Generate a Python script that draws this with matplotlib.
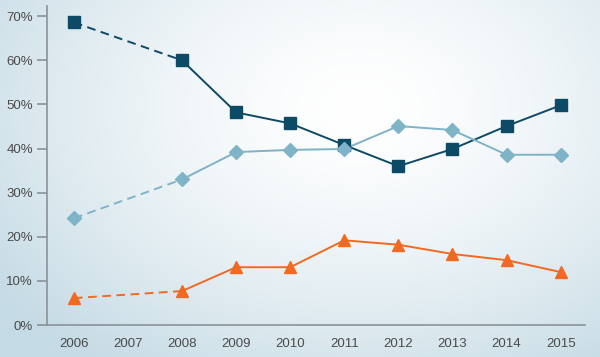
import numpy as np
import matplotlib
matplotlib.use("Agg")
from matplotlib import pyplot as plt

years = [2006, 2008, 2009, 2010, 2011, 2012, 2013, 2014, 2015]
navy = [68.6, 60.0, 48.2, 45.7, 40.8, 36.0, 39.9, 45.1, 49.8]
lightblue = [24.2, 33.0, 39.2, 39.7, 39.9, 45.1, 44.2, 38.6, 38.6]
orange = [6.1, 7.7, 13.1, 13.1, 19.2, 18.2, 16.1, 14.7, 12.0]
xticks = list(range(2006, 2016))
yticks = [0, 10, 20, 30, 40, 50, 60, 70]

plt.rcParams['font.family'] = ['Liberation Sans', 'DejaVu Sans']

fig = plt.figure(figsize=(6, 3.57), dpi=100)

# background gradient (white centre, pale blue edges)
bg = fig.add_axes([0, 0, 1, 1], zorder=-10)
gx, gy = np.meshgrid(np.linspace(0, 1, 300), np.linspace(0, 1, 200))
r = np.sqrt(((gx - 0.6) / 0.75) ** 2 + ((gy - 0.3) / 0.9) ** 2)
r = np.clip(r, 0, 1)
c0 = np.array([1.0, 1.0, 1.0])
c1 = np.array([0.77, 0.855, 0.895])
img = c0[None, None, :] * (1 - r[..., None] ** 1.5) + c1[None, None, :] * (r[..., None] ** 1.5)
bg.imshow(img, aspect='auto', extent=[0, 1, 0, 1], origin='upper')
bg.axis('off')

ax = fig.add_axes([0.078, 0.0896, 0.897, 0.8934])
ax.patch.set_alpha(0)

series = [
    (navy, '#0d4a66', 's', 8.5),
    (lightblue, '#7eb3c8', 'D', 7.2),
    (orange, '#f26a21', '^', 9),
]
for vals, col, mk, ms in series:
    ax.plot(years[:2], vals[:2], color=col, lw=1.4, ls=(0, (4.5, 2.8)), zorder=2)
    ax.plot(years[1:], vals[1:], color=col, lw=1.4, zorder=2)
    ax.plot(years, vals, ls='none', marker=mk, ms=ms, color=col, zorder=3)

ax.set_xlim(2005.5, 2015.45)
ax.set_ylim(0, 72.3)
ax.set_xticks(xticks)
ax.set_xticklabels([str(y) for y in xticks])
ax.set_yticks(yticks)
ax.set_yticklabels([f"{v}%" for v in yticks])

for s in ['top', 'right']:
    ax.spines[s].set_visible(False)
for s in ['left', 'bottom']:
    ax.spines[s].set_color('#8a9299')
    ax.spines[s].set_linewidth(1.2)
ax.tick_params(axis='y', length=7, width=1.2, color='#8a9299', labelsize=9.5,
               labelcolor='#4a4a4a', pad=3)
ax.tick_params(axis='x', length=0, labelsize=9.5, labelcolor='#4a4a4a', pad=9)

fig.savefig('out.png', dpi=100)
